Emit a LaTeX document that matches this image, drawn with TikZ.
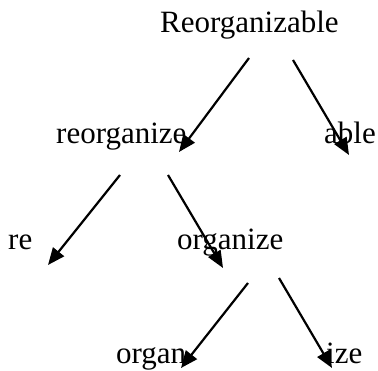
\documentclass[tikz,border=0pt]{standalone}
\usepackage{fontspec}
\setmainfont{Liberation Serif}
\usetikzlibrary{arrows.meta}
\begin{document}
\begin{tikzpicture}[x=1pt,y=1pt,
  word/.style={anchor=base west,inner sep=0pt,font=\fontsize{31}{37}\selectfont},
  link/.style={line width=2.2pt,-{Triangle[length=17pt,width=14pt]}}]
\useasboundingbox (0,0) rectangle (378,370);
% morpheme tree
\node[word] (root)  at (160,337) {Reorganizable};
\node[word] (reorg) at (56,226)  {reorganize};
\node[word] (able)  at (324,226) {able};
\node[word] (re)    at (8,120)   {re};
\node[word] (org)   at (177,120) {organize};
\node[word] (organ) at (116,7)   {organ};
\node[word] (ize)   at (326,7)   {ize};
% arrow ends
\coordinate (a1s) at (249,312); \coordinate (a1e) at (179,218);
\coordinate (a2s) at (293,310); \coordinate (a2e) at (349,215);
\coordinate (a3s) at (120,195); \coordinate (a3e) at (48,105);
\coordinate (a4s) at (168,195); \coordinate (a4e) at (223,102);
\coordinate (a5s) at (248,87);  \coordinate (a5e) at (181,2);
\coordinate (a6s) at (279,92);  \coordinate (a6e) at (332,2);
\draw[link] (a1s) -- (a1e);
\draw[link] (a2s) -- (a2e);
\draw[link] (a3s) -- (a3e);
\draw[link] (a4s) -- (a4e);
\draw[link] (a5s) -- (a5e);
\draw[link] (a6s) -- (a6e);
\end{tikzpicture}
\end{document}
